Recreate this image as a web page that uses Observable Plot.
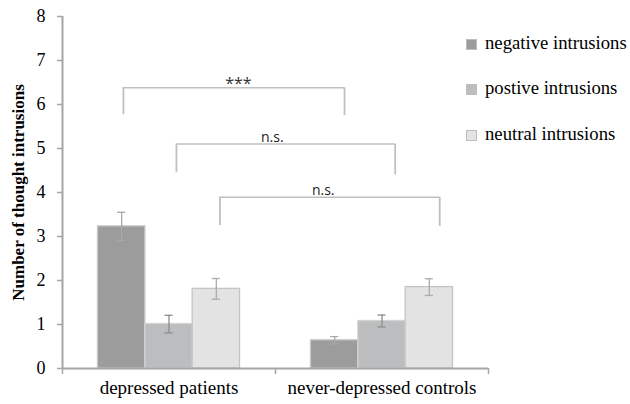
<!DOCTYPE html>
<html><head><meta charset="utf-8">
<script src="https://cdn.jsdelivr.net/npm/d3@7"></script>
<script src="https://cdn.jsdelivr.net/npm/@observablehq/plot@0.6"></script>
<style>
body{margin:0;background:#fff;}
#wrap{position:relative;width:630px;height:404px;overflow:hidden;}
.leg{position:absolute;font-family:'Liberation Serif','Times New Roman',serif;font-size:18.7px;line-height:1;color:#000;white-space:nowrap;}
.sw{position:absolute;width:11px;height:11px;box-sizing:border-box;border:1px solid #bdbdbd;}
</style></head><body><div id="wrap"></div>
<script>
const groups = ["depressed patients", "never-depressed controls"];
const series = ["negative intrusions", "postive intrusions", "neutral intrusions"];
const negativeMeans = [3.23, 0.64];
const positiveMeans = [1.01, 1.08];
const neutralMeans = [1.81, 1.85];
const negativeErr = [0.32, 0.085];
const positiveErr = [0.2, 0.135];
const neutralErr = [0.235, 0.19];
const yTicks = [0, 1, 2, 3, 4, 5, 6, 7, 8];
const yLabel = "Number of thought intrusions";
const bracketLabels = ["***", "n.s.", "n.s."];
const bracketFrom = [0.286, 0.535, 0.739];
const bracketTo = [1.324, 1.562, 1.771];
const bracketTop = [6.38, 5.1, 3.89];
const bracketFromEnd = [5.77, 4.45, 3.25];
const bracketToEnd = [5.75, 4.4, 3.23];
const bracketLabelAt = [0.826, 0.985, 1.224];

const fills = ["#9c9c9c", "#bcbdbf", "#e3e3e3"];
const strokes = ["#c6c6c6", "#d2d2d2", "#c4c4c4"];
const errColors = ["#a8a8a8", "#8c8c8c", "#acacac"];

const meansBySeries = [negativeMeans, positiveMeans, neutralMeans];
const errBySeries = [negativeErr, positiveErr, neutralErr];
const pad = 1 / 6, bw = 2 / 9, cap = 0.019;
const rows = [];
groups.forEach((g, gi) => series.forEach((s, si) => rows.push({
  group: g, gi, series: s, si,
  value: meansBySeries[si][gi], err: errBySeries[si][gi],
  x1: gi + pad + si * bw, x2: gi + pad + (si + 1) * bw,
  xc: gi + pad + (si + 0.5) * bw
})));
const brackets = bracketLabels.map((label, i) => ({
  label, from: bracketFrom[i], to: bracketTo[i], top: bracketTop[i],
  fromEnd: bracketFromEnd[i], toEnd: bracketToEnd[i], at: bracketLabelAt[i]
}));

const serif = "'Liberation Serif', 'Times New Roman', serif";
const sans = "'Open Sans', 'Liberation Sans', sans-serif";
const axisGray = "#a6a6a6";
const brGray = "#c0c0c0";

const chart = Plot.plot({
  width: 630, height: 404,
  marginLeft: 62, marginRight: 142, marginTop: 16, marginBottom: 36,
  x: {domain: [0, 2], axis: null},
  y: {domain: [0, 8], axis: null},
  style: {background: "#fff"},
  marks: [
    Plot.rectY(rows, {x1: "x1", x2: "x2", y: "value",
      fill: d => fills[d.si], stroke: d => strokes[d.si], strokeWidth: 1.3}),
    Plot.ruleX(rows, {x: "xc", y1: d => d.value - d.err, y2: d => d.value + d.err,
      stroke: d => errColors[d.si], strokeWidth: 1.3}),
    Plot.ruleY(rows, {y: d => d.value + d.err, x1: d => d.xc - cap, x2: d => d.xc + cap,
      stroke: d => errColors[d.si], strokeWidth: 1.3}),
    Plot.ruleY(rows, {y: d => d.value - d.err, x1: d => d.xc - cap, x2: d => d.xc + cap,
      stroke: d => errColors[d.si], strokeWidth: 1.3}),
    Plot.ruleY([0], {stroke: axisGray, strokeWidth: 2}),
    Plot.ruleX([0], {stroke: axisGray, strokeWidth: 2}),
    Plot.axisY({ticks: yTicks, tickSize: 5, tickPadding: 12, label: null,
      fontSize: 18, fontFamily: serif, stroke: axisGray, fill: "#000", strokeWidth: 1.5}),
    Plot.axisX({ticks: [0, 1, 2], tickSize: 6, tickFormat: () => "", label: null,
      stroke: axisGray, strokeWidth: 1.5}),
    Plot.axisX({ticks: groups.map((g, i) => i + 0.5), tickSize: 0, tickPadding: 12,
      tickFormat: d => groups[Math.floor(d)], label: null,
      fontSize: 19, fontFamily: serif, fill: "#000"}),
    Plot.text([yLabel], {frameAnchor: "left", dx: -44, rotate: -90, text: d => d,
      textAnchor: "middle", lineAnchor: "middle",
      fontSize: 17, fontWeight: "bold", fontFamily: serif, fill: "#000"}),
    Plot.ruleY(brackets, {y: "top", x1: "from", x2: "to", stroke: brGray, strokeWidth: 1.5}),
    Plot.ruleX(brackets, {x: "from", y1: "fromEnd", y2: "top", stroke: brGray, strokeWidth: 1.8}),
    Plot.ruleX(brackets, {x: "to", y1: "toEnd", y2: "top", stroke: brGray, strokeWidth: 1.8}),
    Plot.text(brackets.filter(d => d.label === "***"), {x: "at", y: "top", text: "label",
      lineAnchor: "bottom", dy: 1, fontSize: 16, fontFamily: sans, fill: "#333"}),
    Plot.text(brackets.filter(d => d.label !== "***"), {x: "at", y: "top", text: "label",
      lineAnchor: "bottom", dy: -2, fontSize: 14, fontFamily: sans, fill: "#222"})
  ]
});
const wrap = document.getElementById("wrap");
wrap.appendChild(chart);

const legendBaselines = [49.5, 95, 140.5];
series.forEach((s, i) => {
  const sw = document.createElement("div");
  sw.className = "sw";
  sw.style.left = "466px";
  sw.style.top = (legendBaselines[i] - 11) + "px";
  sw.style.background = fills[i];
  wrap.appendChild(sw);
  const t = document.createElement("div");
  t.className = "leg";
  t.style.left = "485px";
  t.style.top = (legendBaselines[i] - 15.7) + "px";
  t.textContent = s;
  wrap.appendChild(t);
});
</script></body></html>
